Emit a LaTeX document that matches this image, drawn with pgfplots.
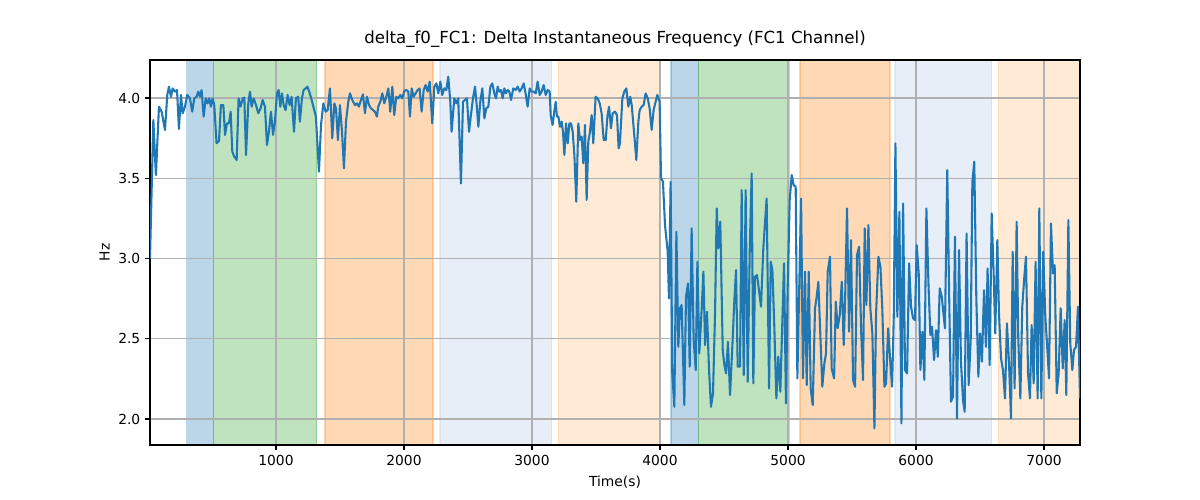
\documentclass[border=0pt]{standalone}
\usepackage{fontspec}
\setmainfont{DejaVu Sans}
\usepackage{pgfplots}
\pgfplotsset{compat=1.18}
\definecolor{tabblue}{HTML}{1F77B4}
\definecolor{tabgreen}{HTML}{2CA02C}
\definecolor{taborange}{HTML}{FF7F0E}
\definecolor{tabltblue}{HTML}{AEC7E8}
\definecolor{tabltorange}{HTML}{FFBB78}
\definecolor{gridgray}{HTML}{B0B0B0}
\pgfplotsset{base/.style={at={(1.5in,0.55in)}, anchor=south west,
  scale only axis, width=9.3in, height=3.85in,
  xmin=16, xmax=7281, ymin=1.838, ymax=4.237, clip=true}}
\begin{document}
\begin{tikzpicture}
\useasboundingbox (0,0) rectangle (12in,5in);
% background axis: shaded spans only
\begin{axis}[base, hide axis]
\addplot[fill=tabblue, draw=tabblue, opacity=0.3, line width=1pt] coordinates {(303,1.838) (303,4.237) (511,4.237) (511,1.838)} -- cycle;
\addplot[fill=tabgreen, draw=tabgreen, opacity=0.3, line width=1pt] coordinates {(511,1.838) (511,4.237) (1318,4.237) (1318,1.838)} -- cycle;
\addplot[fill=taborange, draw=taborange, opacity=0.3, line width=1pt] coordinates {(1384,1.838) (1384,4.237) (2226,4.237) (2226,1.838)} -- cycle;
\addplot[fill=tabltblue, draw=tabltblue, opacity=0.3, line width=1pt] coordinates {(2281,1.838) (2281,4.237) (3153,4.237) (3153,1.838)} -- cycle;
\addplot[fill=tabltorange, draw=tabltorange, opacity=0.3, line width=1pt] coordinates {(3205,1.838) (3205,4.237) (4004,4.237) (4004,1.838)} -- cycle;
\addplot[fill=tabblue, draw=tabblue, opacity=0.3, line width=1pt] coordinates {(4086,1.838) (4086,4.237) (4299,4.237) (4299,1.838)} -- cycle;
\addplot[fill=tabgreen, draw=tabgreen, opacity=0.3, line width=1pt] coordinates {(4299,1.838) (4299,4.237) (5010,4.237) (5010,1.838)} -- cycle;
\addplot[fill=taborange, draw=taborange, opacity=0.3, line width=1pt] coordinates {(5095,1.838) (5095,4.237) (5797,4.237) (5797,1.838)} -- cycle;
\addplot[fill=tabltblue, draw=tabltblue, opacity=0.3, line width=1pt] coordinates {(5836,1.838) (5836,4.237) (6591,4.237) (6591,1.838)} -- cycle;
\addplot[fill=tabltorange, draw=tabltorange, opacity=0.3, line width=1pt] coordinates {(6643,1.838) (6643,4.237) (7300,4.237) (7300,1.838)} -- cycle;
\end{axis}
\begin{axis}[
  base,
  xtick={1000,2000,3000,4000,5000,6000,7000},
  ytick={2.0,2.5,3.0,3.5,4.0},
  /pgf/number format/assume math mode=true,
  /pgf/number format/set thousands separator={},
  yticklabel style={/pgf/number format/fixed,/pgf/number format/precision=1,/pgf/number format/fixed zerofill},
  grid=major,
  grid style={color=gridgray, line width=0.8pt},
  axis line style={black, line width=0.8pt},
  tick style={black, line width=0.8pt},
  major tick length=3.5pt,
  tick align=outside,
  xtick pos=bottom, ytick pos=left,
  tick label style={font=\fontsize{10}{12}\selectfont},
  title={delta\_f0\_FC1: Delta Instantaneous Frequency (FC1 Channel)},
  title style={at={(axis description cs:0.5,1.0216)}, anchor=base, inner sep=0pt, font=\fontsize{12}{14}\selectfont},
  xlabel={Time(s)},
  xlabel style={at={(axis description cs:0.5,-0.080)}, anchor=north, inner sep=0pt, font=\fontsize{10}{12}\selectfont},
  ylabel={Hz},
  every axis y label/.style={at={(axis description cs:-0.043,0.5)}, rotate=90, anchor=south, inner sep=0pt, font=\fontsize{10}{12}\selectfont},
]
\addplot[color=tabblue, line width=1.5pt, line join=round, mark=none] coordinates {
(16,3.000) (42,3.863) (62,3.520) (86,3.946) (107,3.915) (133,3.801) (151,4.019) (164,4.071) (180,4.008) (193,4.060)
(211,4.040) (227,4.050) (242,3.807) (258,4.019) (271,3.905) (289,3.946) (307,4.019) (328,3.998) (346,3.915) (362,3.998)
(380,4.008) (393,4.040) (406,4.008) (419,4.050) (435,3.884) (451,3.998) (466,3.967) (479,3.998) (492,3.946) (505,3.998)
(518,3.956) (536,3.718) (555,3.732) (570,3.956) (589,3.956) (602,3.770) (617,3.842) (633,3.842) (646,3.915) (659,3.666)
(674,3.635) (693,3.614) (708,3.998) (724,3.946) (740,3.998) (753,4.002) (766,3.645) (784,3.967) (797,4.040) (810,3.946)
(826,3.998) (844,3.956) (862,3.905) (880,3.936) (896,3.988) (914,3.946) (930,3.707) (945,3.790) (961,3.915) (977,3.770)
(992,3.853) (1008,4.029) (1021,4.050) (1034,3.946) (1047,4.029) (1060,3.956) (1075,3.925) (1091,4.019) (1107,3.956) (1122,4.008)
(1141,3.790) (1156,3.998) (1174,4.008) (1187,3.853) (1203,3.998) (1216,4.050) (1232,4.060) (1245,4.071) (1260,4.040) (1279,3.988)
(1299,3.925) (1312,3.884) (1336,3.541) (1352,3.832) (1370,3.967) (1388,3.915) (1404,3.925) (1422,4.060) (1440,3.749) (1456,3.967)
(1469,3.936) (1484,3.738) (1500,3.956) (1516,3.790) (1531,3.562) (1547,3.853) (1565,3.977) (1578,4.029) (1596,3.988) (1617,3.956)
(1633,3.967) (1648,3.946) (1664,3.988) (1680,4.023) (1695,3.905) (1711,4.008) (1727,3.956) (1742,3.936) (1758,3.925) (1773,3.915)
(1789,3.884) (1799,3.946) (1815,3.977) (1831,4.029) (1846,3.967) (1862,4.008) (1878,4.060) (1893,3.915) (1909,4.071) (1924,3.894)
(1940,4.008) (1956,3.998) (1971,4.019) (1987,3.998) (2003,4.044) (2018,4.050) (2034,4.040) (2047,3.884) (2060,4.060) (2075,4.008)
(2091,4.029) (2107,4.050) (2122,4.060) (2138,3.915) (2154,4.050) (2169,4.081) (2185,4.040) (2201,4.102) (2221,3.842) (2237,4.071)
(2253,4.091) (2268,4.029) (2284,4.102) (2299,4.019) (2315,4.060) (2331,4.050) (2346,4.133) (2362,3.977) (2372,3.790) (2393,3.998)
(2409,3.967) (2424,3.998) (2445,3.468) (2461,3.977) (2476,3.988) (2492,3.998) (2508,3.790) (2523,3.894) (2539,3.998) (2555,4.071)
(2568,3.956) (2581,3.821) (2596,3.977) (2612,4.060) (2628,3.873) (2643,3.936) (2659,3.946) (2675,4.071) (2690,4.091) (2706,4.029)
(2719,3.998) (2732,4.071) (2745,4.040) (2758,4.050) (2771,3.998) (2784,4.060) (2797,4.029) (2810,4.050) (2823,4.040) (2836,3.988)
(2854,4.060) (2872,4.050) (2888,4.071) (2904,4.040) (2919,4.060) (2935,4.091) (2950,4.029) (2966,3.946) (2982,4.060) (2997,4.040)
(3013,4.040) (3029,4.029) (3044,4.102) (3060,4.019) (3075,4.040) (3091,4.081) (3107,4.019) (3122,4.050) (3138,4.040) (3146,3.894)
(3161,3.832) (3174,3.915) (3185,3.977) (3195,3.884) (3206,3.884) (3219,3.821) (3232,3.853) (3242,3.790) (3253,3.645) (3266,3.842)
(3279,3.718) (3292,3.842) (3305,3.842) (3318,3.790) (3331,3.645) (3346,3.354) (3362,3.842) (3375,3.738) (3388,3.759) (3401,3.593)
(3414,3.832) (3427,3.365) (3440,3.728) (3453,3.790) (3466,3.894) (3479,3.718) (3497,4.008) (3513,3.998) (3529,3.967) (3544,3.905)
(3560,3.738) (3576,3.738) (3589,3.884) (3602,3.946) (3617,3.811) (3630,3.905) (3648,3.915) (3664,3.894) (3677,3.686) (3687,3.718)
(3706,3.998) (3721,4.040) (3737,4.060) (3753,3.946) (3768,4.008) (3779,3.956) (3799,3.770) (3815,3.614) (3831,3.853) (3841,3.925)
(3857,3.946) (3872,3.956) (3888,4.029) (3904,3.998) (3919,3.936) (3935,3.801) (3950,3.925) (3966,3.977) (3979,4.019) (3997,3.977)
(4008,3.500) (4023,3.479) (4039,3.209) (4060,3.043) (4070,2.751) (4083,3.478) (4096,2.284) (4112,2.076) (4128,3.167) (4143,2.450)
(4156,2.690) (4169,2.710) (4190,2.087) (4203,2.762) (4219,2.845) (4232,2.326) (4247,3.188) (4263,2.492) (4279,2.305) (4292,2.980)
(4307,2.409) (4326,2.690) (4339,2.918) (4352,2.461) (4367,2.668) (4383,2.305) (4398,2.076) (4414,2.160) (4430,2.658) (4443,3.312)
(4456,3.063) (4471,3.229) (4490,2.430) (4503,2.336) (4516,2.284) (4531,2.481) (4547,2.149) (4565,2.450) (4581,2.741) (4594,2.928)
(4607,2.326) (4625,2.326) (4638,3.426) (4654,2.274) (4669,3.426) (4685,2.232) (4701,3.052) (4716,3.530) (4729,2.222) (4742,2.886)
(4758,2.897) (4773,2.803) (4789,2.700) (4807,3.063) (4833,3.374) (4852,2.190) (4865,2.980) (4878,2.928) (4893,2.575) (4909,2.128)
(4924,2.388) (4940,2.170) (4953,2.533) (4969,2.970) (4984,2.097) (4997,2.803) (5013,3.364) (5029,3.520) (5044,3.457) (5060,3.447)
(5073,2.253) (5102,3.374) (5117,2.253) (5133,2.918) (5146,2.211) (5162,2.918) (5177,2.190) (5193,2.087) (5211,2.690) (5224,2.762)
(5237,2.855) (5253,2.513) (5268,2.201) (5284,2.347) (5297,2.409) (5310,2.918) (5328,3.011) (5341,2.315) (5360,2.253) (5373,2.731)
(5388,2.565) (5404,2.648) (5420,2.855) (5435,2.461) (5446,2.741) (5461,3.312) (5477,2.544) (5492,3.115) (5508,2.243) (5524,2.201)
(5539,3.021) (5555,3.073) (5571,2.554) (5586,2.243) (5599,3.188) (5612,2.710) (5628,3.208) (5643,2.690) (5659,2.533) (5675,1.941)
(5688,2.658) (5706,3.011) (5722,2.949) (5737,2.679) (5753,2.201) (5766,2.222) (5782,2.565) (5797,2.378) (5813,2.201) (5826,2.637)
(5839,3.717) (5854,2.637) (5870,3.291) (5886,1.973) (5899,3.343) (5914,2.305) (5930,2.284) (5946,2.970) (5961,2.700) (5977,2.627)
(5992,2.616) (6005,3.084) (6021,2.907) (6034,2.305) (6050,2.544) (6065,2.243) (6081,3.312) (6097,2.845) (6112,2.523) (6125,2.575)
(6141,2.367) (6156,2.554) (6170,2.388) (6185,2.814) (6201,2.762) (6226,2.565) (6244,3.551) (6260,2.710) (6273,2.108) (6289,2.139)
(6304,3.136) (6320,2.004) (6336,3.053) (6351,2.357) (6367,2.118) (6380,2.045) (6395,3.156) (6411,2.211) (6427,2.492) (6440,3.478)
(6455,3.603) (6471,2.751) (6487,2.263) (6500,2.533) (6515,2.357) (6531,2.803) (6546,2.450) (6559,2.938) (6575,2.336) (6591,3.281)
(6606,2.918) (6619,2.533) (6635,3.115) (6648,2.658) (6664,2.378) (6679,2.305) (6695,2.128) (6710,2.596) (6726,2.357) (6742,2.004)
(6755,3.042) (6770,2.190) (6786,3.229) (6799,2.492) (6815,2.128) (6830,2.700) (6846,2.886) (6859,3.011) (6875,2.284) (6890,2.128)
(6903,2.585) (6919,2.222) (6934,2.980) (6950,2.128) (6963,3.312) (6979,2.128) (6994,3.042) (7010,2.637) (7023,2.471) (7039,2.253)
(7054,3.219) (7070,2.907) (7083,2.959) (7099,2.160) (7114,2.284) (7130,2.690) (7146,2.315) (7161,2.616) (7174,2.149) (7190,3.240)
(7205,2.471) (7221,2.305) (7234,2.430) (7250,2.450) (7265,2.700) (7281,2.128)
};
\end{axis}
\end{tikzpicture}
\end{document}
